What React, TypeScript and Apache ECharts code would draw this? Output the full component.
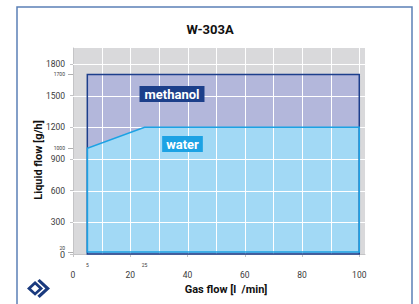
import React, { useEffect, useRef } from "react";
import * as echarts from "echarts";

const chartTitle = "W-303A";
const xName = "Gas flow [l  /min]";
const yName = "Liquid flow [g/h]";
const xMajorLabels = [0, 20, 40, 60, 80, 100];
const xMinorLabels = [5, 25];
const yMajorLabels = [0, 300, 600, 900, 1200, 1500, 1800];
const yMinorLabels = [20, 1000, 1700];
const xGridValues = [10, 20, 30, 40, 50, 60, 70, 80, 90, 100];
const yGridValues = [300, 600, 900, 1200, 1500, 1800];
const methanolX = [5, 5, 100, 100];
const methanolY = [0, 1700, 1700, 0];
const waterX = [5, 5, 25, 100, 100];
const waterY = [20, 1000, 1200, 1200, 20];

const X_MIN = 0;
const X_MAX = 102;
const Y_MIN = 0;
const Y_MAX = 1950;

const LOGO_D =
  "M0 9 L7 2 L14 9 L7 16 Z M3.5 9 L7 12.5 L10.5 9 L7 5.5 Z M11 0 L20 9 L11 18 L9 16 L16 9 L9 2 Z";
echarts.graphic.registerShape("logo", echarts.graphic.extendPath(LOGO_D, {}));

const renderAll = (params: any, api: any) => {
  if (params.dataIndex !== 0) return null;
  const pts = (xs: number[], ys: number[]) => xs.map((x, i) => api.coord([x, ys[i]]));
  const children: any[] = [];
  children.push({
    type: "polygon",
    z2: 1,
    shape: { points: pts(methanolX, methanolY) },
    style: { fill: "#b3b7db", stroke: "none" },
  });
  children.push({
    type: "polygon",
    z2: 2,
    shape: { points: pts(waterX, waterY) },
    style: { fill: "#a2d9f5", stroke: "none" },
  });
  const top = Math.round(api.coord([X_MIN, Y_MAX])[1]);
  const bottom = Math.round(api.coord([X_MIN, Y_MIN])[1]);
  const left = Math.round(api.coord([X_MIN, Y_MIN])[0]);
  const right = Math.round(api.coord([X_MAX, Y_MIN])[0]);
  xGridValues.forEach((v) => {
    const x = Math.round(api.coord([v, Y_MIN])[0]);
    children.push({
      type: "rect",
      z2: 3,
      shape: { x, y: top, width: 1, height: bottom - top },
      style: { fill: "#ffffff", stroke: "none" },
    });
  });
  yGridValues.forEach((v) => {
    const y = Math.round(api.coord([X_MIN, v])[1]);
    children.push({
      type: "rect",
      z2: 3,
      shape: { x: left, y, width: right - left, height: 1 },
      style: { fill: "#ffffff", stroke: "none" },
    });
  });
  children.push({
    type: "polygon",
    z2: 4,
    shape: { points: pts(methanolX, methanolY) },
    style: { fill: "none", stroke: "#1d3f8c", lineWidth: 1.5 },
  });
  children.push({
    type: "polygon",
    z2: 5,
    shape: { points: pts(waterX, waterY) },
    style: { fill: "none", stroke: "#1ca2e4", lineWidth: 1.5 },
  });
  return { type: "group", children };
};

export default function App() {
  const ref = useRef<HTMLDivElement>(null);
  useEffect(() => {
    if (!ref.current) return;
    const chart = echarts.init(ref.current, null, { renderer: "svg" });
    const axisGray = "#c4c4c6";
    const plain = (v: number) => String(v);
    const option: any = {
      animation: false,
      backgroundColor: "#ffffff",
      textStyle: { fontFamily: "Roboto" },
      grid: {
        left: 73,
        top: 48,
        width: 292,
        height: 206,
        show: true,
        backgroundColor: "#d9d9db",
        borderWidth: 0,
      },
      xAxis: [
        {
          type: "value",
          min: X_MIN,
          max: X_MAX,
          interval: 10,
          axisLine: { show: true, lineStyle: { color: axisGray, width: 1 } },
          axisTick: { show: true, customValues: xMajorLabels, length: 3, lineStyle: { color: axisGray } },
          axisLabel: {
            customValues: xMajorLabels,
            formatter: plain,
            margin: 16,
            fontSize: 8.5,
            color: "#3a3a3a",
          },
          splitLine: { show: false },
        },
        {
          type: "value",
          min: X_MIN,
          max: X_MAX,
          position: "bottom",
          axisLine: { show: false },
          axisTick: { show: false },
          axisLabel: {
            customValues: xMinorLabels,
            formatter: plain,
            margin: 8,
            fontSize: 5,
            color: "#3a3a3a",
          },
          splitLine: { show: false },
        },
      ],
      yAxis: [
        {
          type: "value",
          min: Y_MIN,
          max: Y_MAX,
          interval: 300,
          axisLine: { show: true, lineStyle: { color: axisGray, width: 1 } },
          axisTick: { show: true, customValues: yMajorLabels, length: 3, lineStyle: { color: axisGray } },
          axisLabel: {
            customValues: yMajorLabels,
            formatter: (v: number) => (v === 0 ? "{zero|0}" : String(v)),
            rich: { zero: { fontSize: 9, lineHeight: 9, color: "#3a3a3a", padding: [2, 0, 0, 0] } },
            margin: 8,
            fontSize: 8.5,
            color: "#3a3a3a",
          },
          splitLine: { show: false },
        },
        {
          type: "value",
          min: Y_MIN,
          max: Y_MAX,
          position: "left",
          axisLine: { show: false },
          axisTick: {
            show: true,
            customValues: yMinorLabels,
            length: 5,
            lineStyle: { color: "#9a9a9a", width: 0.8 },
          },
          axisLabel: {
            customValues: yMinorLabels,
            formatter: (v: number) => (v === 20 ? "{up|20}" : String(v)),
            rich: { up: { fontSize: 5, lineHeight: 5, color: "#3a3a3a", padding: [0, 0, 7, 0] } },
            margin: 8,
            fontSize: 5,
            color: "#3a3a3a",
          },
          splitLine: { show: false },
        },
      ],
      series: [
        {
          type: "custom",
          xAxisIndex: 0,
          yAxisIndex: 0,
          clip: false,
          z: 2,
          silent: true,
          renderItem: renderAll,
          data: [[X_MIN, Y_MIN]],
        },
      ],
      graphic: [
        {
          type: "rect",
          shape: { x: 17, y: 7, width: 395, height: 320 },
          style: { fill: "none", stroke: "#5b80b6", lineWidth: 1.5 },
          silent: true,
        },
        {
          type: "text",
          x: 210,
          y: 29,
          style: {
            text: chartTitle,
            fontFamily: "Roboto",
            fontWeight: "bold",
            fontSize: 13,
            fill: "#111111",
            textAlign: "center",
            textVerticalAlign: "middle",
          },
        },
        {
          type: "text",
          x: 38,
          y: 160,
          rotation: Math.PI / 2,
          style: {
            text: yName,
            fontFamily: "Roboto",
            fontWeight: "bold",
            fontSize: 11,
            fill: "#111111",
            textAlign: "center",
            textVerticalAlign: "middle",
          },
        },
        {
          type: "text",
          x: 226,
          y: 289,
          style: {
            text: xName,
            fontFamily: "Roboto",
            fontWeight: "bold",
            fontSize: 11,
            fill: "#111111",
            textAlign: "center",
            textVerticalAlign: "middle",
          },
        },
        {
          type: "text",
          x: 172,
          y: 94,
          z: 10,
          style: {
            text: "methanol",
            fontFamily: "Roboto",
            fontWeight: "bold",
            fontSize: 13,
            fill: "#ffffff",
            backgroundColor: "#1c3f8a",
            padding: [2, 5, 1, 5],
            textAlign: "center",
            textVerticalAlign: "middle",
          },
        },
        {
          type: "text",
          x: 182.5,
          y: 144,
          z: 10,
          style: {
            text: "water",
            fontFamily: "Roboto",
            fontWeight: "bold",
            fontSize: 13,
            fill: "#ffffff",
            backgroundColor: "#1ca2e4",
            padding: [2, 4, 1, 4],
            textAlign: "center",
            textVerticalAlign: "middle",
          },
        },
        {
          type: "logo",
          x: 27,
          y: 279,
          scaleX: 1.15,
          scaleY: 1.05,
          style: { fill: "#1a3a7e" },
        },
      ],
    };
    chart.setOption(option);
    return () => chart.dispose();
  }, []);
  return (
    <div
      ref={ref}
      style={{ position: "fixed", left: 0, top: 0, width: 419, height: 304 }}
    />
  );
}
